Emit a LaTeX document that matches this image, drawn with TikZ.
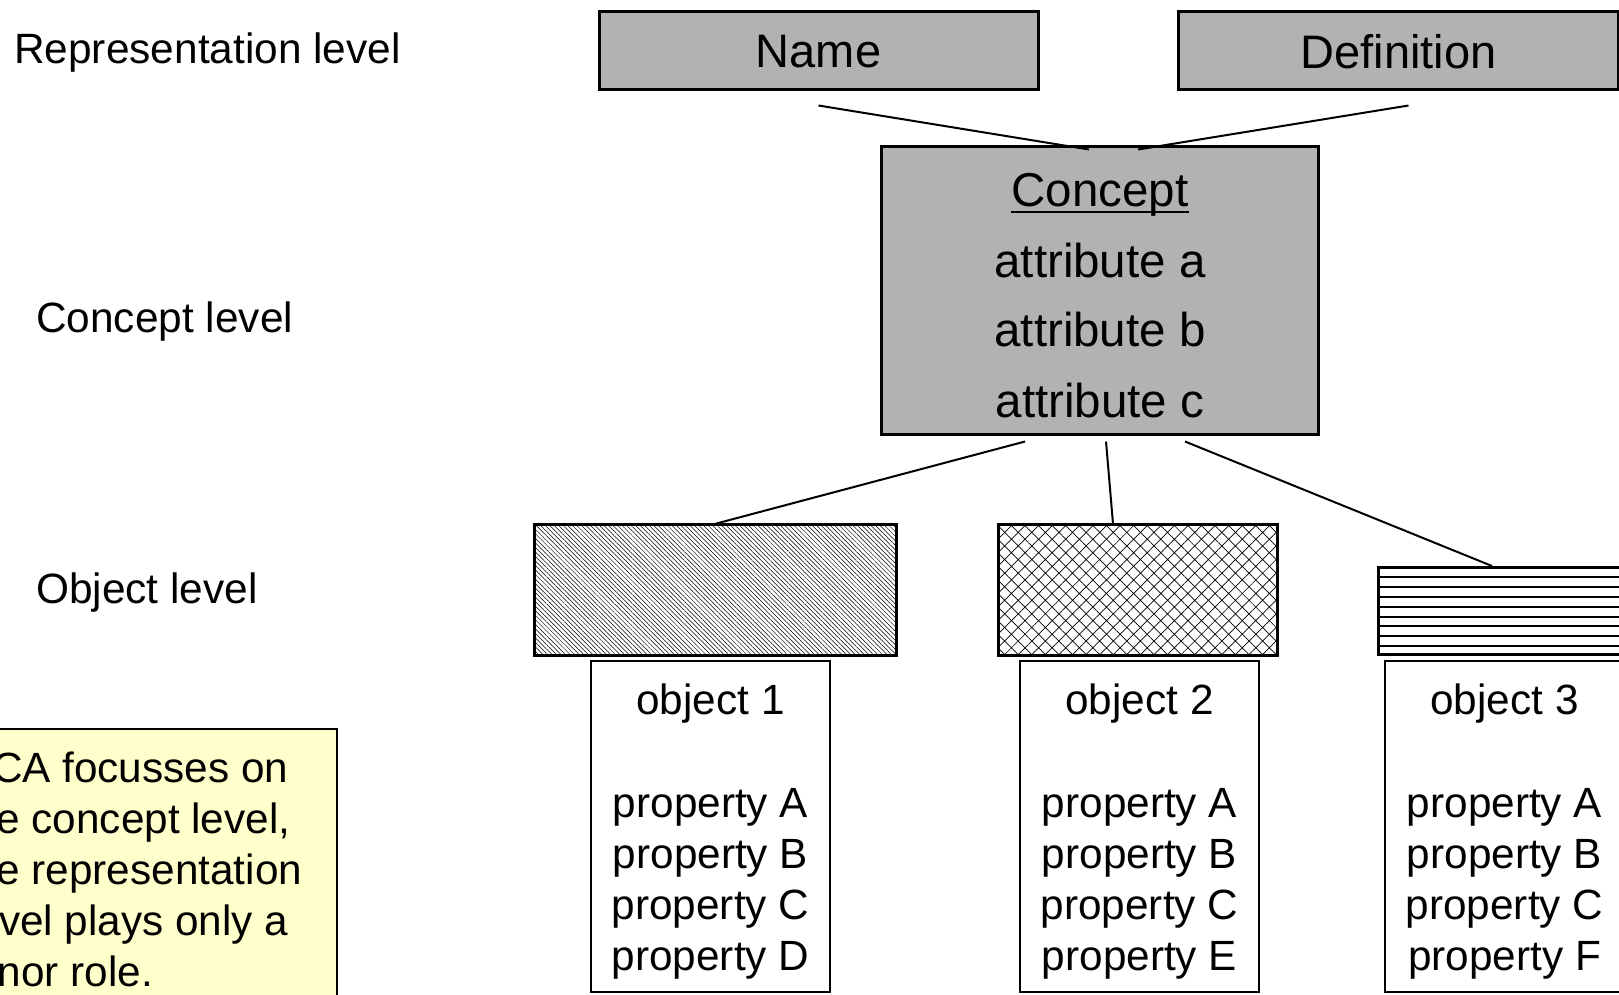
\documentclass[tikz,border=0pt]{standalone}
\usepackage{fontspec}
\setmainfont{Liberation Sans}
\usetikzlibrary{patterns.meta}

\definecolor{boxgray}{RGB}{178,178,178}
\definecolor{noteyellow}{RGB}{255,255,204}

\begin{document}
\begin{tikzpicture}[x=1pt,y=-1pt,
  levellabel/.style={anchor=base west,inner sep=0pt,font=\fontsize{42.4}{50}\selectfont},
  graybox/.style={draw,line width=3pt,fill=boxgray,inner sep=0pt},
  toptext/.style={inner sep=0pt,font=\fontsize{47}{56}\selectfont},
  conceptline/.style={anchor=base,inner sep=0pt,font=\fontsize{47.5}{56}\selectfont},
  patbox/.style={draw,line width=3pt,inner sep=0pt},
  objbox/.style={draw,line width=2pt,fill=white,inner sep=0pt,minimum width=239pt,minimum height=331pt},
  objtext/.style={anchor=base,inner sep=0pt,font=\fontsize{42.3}{50}\selectfont},
  notetext/.style={anchor=base west,inner sep=0pt,font=\fontsize{42.3}{50}\selectfont},
  conn/.style={line width=2pt}
]
\useasboundingbox (0,0) rectangle (1619,994);
\clip (0,0) rectangle (1619,994);

% level labels on the left
\node[levellabel] (lrep) at (14,63) {Representation level};
\node[levellabel] (lcon) at (36,332) {Concept level};
\node[levellabel] (lobj) at (36,603) {Object level};

% representation level
\node[graybox,minimum width=439pt,minimum height=78pt] (name) at (818.5,50) {};
\node[toptext] (nametxt) at (818.5,52) {Name};
\node[graybox,minimum width=440pt,minimum height=78pt] (def) at (1398.5,50) {};
\node[toptext] (deftxt) at (1398.5,52) {Definition};

% concept level
\node[graybox,minimum width=437pt,minimum height=288pt] (concept) at (1100,290) {};
\node[conceptline] (ctitle) at (1100,206) {Concept};
\draw[line width=2.5pt] ([yshift=-6pt]ctitle.base west) -- ([yshift=-6pt]ctitle.base east);
\node[conceptline] (cattra) at (1100,277) {attribute a};
\node[conceptline] (cattrb) at (1100,346) {attribute b};
\node[conceptline] (cattrc) at (1100,417) {attribute c};

% object level: patterned boxes
\node[patbox,minimum width=362pt,minimum height=131pt,
      pattern={Lines[angle=-45,distance=3.2pt,line width=0.5pt]}] (hatch) at (715.5,589.5) {};
\node[patbox,minimum width=279pt,minimum height=131pt,
      pattern={Hatch[angle=45,distance=9.6pt,line width=0.7pt]}] (cross) at (1138,589.5) {};
\node[patbox,minimum width=362pt,minimum height=87pt] (stripes) at (1559.5,611) {};
\foreach \k in {1,...,8}
  \draw[line width=2pt] (1377,{567+9.9*\k}) -- (1742,{567+9.9*\k});
\node[patbox,minimum width=362pt,minimum height=87pt] at (1559.5,611) {};

% object descriptions
\node[objbox] (obj1) at (710.5,826.5) {};
\node[objbox] (obj2) at (1139.5,826.5) {};
\node[objbox] (obj3) at (1504.5,826.5) {};
\foreach \n/\cx/\last in {1/710.5/D,2/1139.5/E,3/1504.5/F} {
  \node[objtext] (obj\n-title) at (\cx,714) {object \n};
  \node[objtext] (obj\n-pa) at (\cx,817) {property A};
  \node[objtext] (obj\n-pb) at (\cx,868) {property B};
  \node[objtext] (obj\n-pc) at (\cx,919) {property C};
  \node[objtext] (obj\n-pl) at (\cx,970) {property \last};
}

% connectors
\draw[conn] ([yshift=-15pt]name.south) -- ([xshift=-11pt,yshift=-5pt]concept.north);
\draw[conn] ([xshift=10pt,yshift=-15pt]def.south) -- ([xshift=38pt,yshift=-5pt]concept.north);
\draw[conn] ([xshift=-75pt,yshift=-6pt]concept.south) -- (hatch.north);
\draw[conn] ([xshift=6pt,yshift=-6pt]concept.south) -- ([xshift=-25pt]cross.north);
\draw[conn] ([xshift=85pt,yshift=-6pt]concept.south) -- ([xshift=-67.5pt]stripes.north);

% note
\node[draw,line width=2pt,fill=noteyellow,inner sep=0pt,minimum width=396pt,minimum height=290pt] (note) at (139,874) {};
\node[notetext] (note1) at (-34,782) {FCA focusses on};
\node[notetext] (note2) at (-39,833) {the concept level,};
\node[notetext] (note3) at (-39,884) {the representation};
\node[notetext] (note4) at (-34,935) {level plays only a};
\node[notetext] (note5) at (-47,986) {minor role.};
\end{tikzpicture}
\end{document}
